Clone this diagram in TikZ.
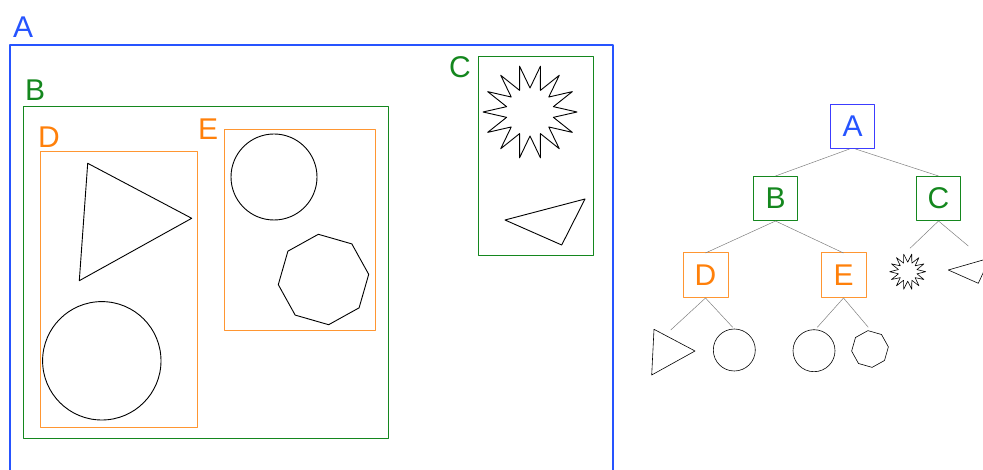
\documentclass[tikz,border=0pt]{standalone}
\usepackage{fontspec}
\setmainfont{Liberation Sans}
\usepackage{xcolor}
\usetikzlibrary{calc}

\definecolor{bluA}{RGB}{38,84,255}
\definecolor{bluT}{RGB}{60,60,255}
\definecolor{verde}{RGB}{20,135,30}
\definecolor{arancio}{RGB}{255,128,10}
\definecolor{aranciochiaro}{RGB}{255,150,50}

\begin{document}
\begin{tikzpicture}[x=1pt, y=-1pt,
		line cap=round, line join=round,
		forma/.style={line width=0.9pt, black},
		lbl/.style={font=\fontsize{30}{32}\selectfont, anchor=base west, inner sep=0pt},
		tnodo/.style={draw=#1, line width=1pt, minimum size=44pt, inner sep=0pt,
				font=\fontsize{30}{32}\selectfont},
		ramo/.style={line width=0.5pt, gray}]

	\useasboundingbox (0,0) rectangle (983,470);

	% ---- macro per le forme ----
	% \ottagono{centro}{raggio}
	\newcommand{\ottagono}[2]{%
		\draw[forma, shift={(#1)}, yscale=-1] (96.5:#2)
		\foreach \k in {1,...,7}{ -- ({96.5+\k*45}:#2)} -- cycle;}
	% \stella{centro}{raggio esterno}{raggio interno}
	\newcommand{\stella}[3]{%
		\draw[forma, shift={(#1)}, yscale=-1] (77.143:#2)
		\foreach \k in {0,...,13}{ -- ({90+\k*25.714}:#3) -- ({102.857+\k*25.714}:#2)} -- cycle;}

	% ================= insiemi annidati =================
	\draw[bluA, line width=2pt] (10,470) -- (10,45) -- (613,45) -- (613,470);
	\node[lbl, text=bluA] at (13,38) {A};

	\draw[verde, line width=1pt] (23.5,106.5) rectangle (388.5,438.5);
	\node[lbl, text=verde] at (25,101) {B};

	\draw[aranciochiaro, line width=1pt] (40.5,151.5) rectangle (197.5,427.5);
	\node[lbl, text=arancio] at (38,148) {D};

	\draw[aranciochiaro, line width=1pt] (224.5,129.5) rectangle (375.5,330.5);
	\node[lbl, text=arancio] at (198,140) {E};

	\draw[verde, line width=1pt] (478.5,56.5) rectangle (593.5,255.5);
	\node[lbl, text=verde] at (449,78) {C};

	% ---- forme negli insiemi ----
	\draw[forma] (87.7,163.3) -- (191.7,218.3) -- (79.3,280.7) -- cycle;
	\draw[forma] (101.8,360.8) circle (59.2);
	\draw[forma] (274,177) circle (43);
	\ottagono{323.5,279.5}{45.5}
	\stella{530,112}{47}{24}
	\draw[forma] (505,220) -- (585,199) -- (561.7,245) -- cycle;

	% ================= albero =================
	\node[tnodo=bluT, text=bluA] (tA) at (852.5,126.5) {A};
	\node[tnodo=verde, text=verde] (tB) at (775.5,198.5) {B};
	\node[tnodo=verde, text=verde] (tC) at (938.5,198.5) {C};
	\node[tnodo=none, text=arancio] (tD) at (705.5,275.5) {D};
	\node[tnodo=none, text=arancio] (tE) at (843.5,275.5) {E};
	\draw[aranciochiaro, line width=1pt] (tD.north west) rectangle (tD.south east);
	\draw[aranciochiaro, line width=1pt] (tE.north west) rectangle (tE.south east);

	% ---- foglie ----
	\coordinate (fD1) at (670.7,330);
	\coordinate (fD2) at (732.7,327.3);
	\coordinate (fE1) at (817.3,327.3);
	\coordinate (fE2) at (868.3,327.3);
	\coordinate (fC1) at (910,248.3);
	\coordinate (fC2) at (968.3,246);

	\draw[forma, line width=0.6pt] (654,329.3) -- (695,351) -- (651.7,375) -- cycle;
	\draw[forma, line width=0.6pt] (734.3,350) circle (21);
	\draw[forma, line width=0.6pt] (814,350.7) circle (21);
	\begin{scope}[forma/.append style={line width=0.6pt}]
		\ottagono{870,349}{18.5}
		\stella{907.7,271.7}{18}{9.5}
	\end{scope}
	\draw[forma, line width=0.6pt] (948.3,270) -- (990,258) -- (978.3,283.3) -- cycle;

	% ---- rami ----
	\draw[ramo] ([xshift=-3pt]tA.south) -- (tB.north);
	\draw[ramo] ([xshift=3pt]tA.south) -- (tC.north);
	\draw[ramo] (tB.south) -- (tD.north);
	\draw[ramo] (tB.south) -- (tE.north);
	\draw[ramo] (tC.south) -- (fC1);
	\draw[ramo] (tC.south) -- (fC2);
	\draw[ramo] (tD.south) -- (fD1);
	\draw[ramo] (tD.south) -- (fD2);
	\draw[ramo] (tE.south) -- (fE1);
	\draw[ramo] (tE.south) -- (fE2);

\end{tikzpicture}
\end{document}
